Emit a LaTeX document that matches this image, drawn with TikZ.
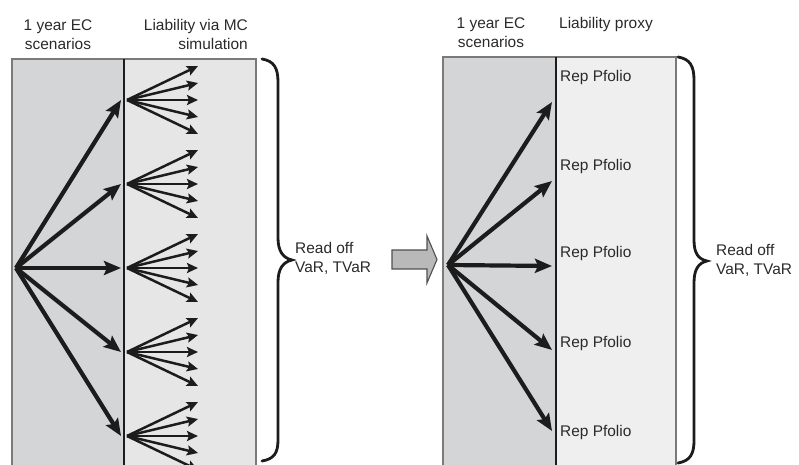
\documentclass[tikz,border=0pt]{standalone}
\usepackage{fontspec}
\setmainfont{Liberation Sans}
\usetikzlibrary{arrows.meta}

\definecolor{scenfill}{HTML}{D4D5D7}
\definecolor{mcfill}{HTML}{E6E6E6}
\definecolor{proxyfill}{HTML}{EEEFEE}
\definecolor{frame}{HTML}{7A7A7A}
\definecolor{ink}{HTML}{1C1C1C}
\definecolor{txt}{HTML}{2A2A2A}
\definecolor{blockfill}{HTML}{B9B9B9}
\definecolor{blockline}{HTML}{505050}

\tikzset{
  panel/.style={draw=frame, line width=1.2bp},
  divider/.style={draw=ink, line width=1.6bp},
  mainarrow/.style={draw=ink, line width=4.2bp,
    -{Stealth[length=17bp,width=14bp,inset=3bp]}},
  subarrow/.style={draw=ink, line width=2.5bp,
    -{Stealth[length=11bp,width=10bp,inset=2bp]}},
  label/.style={text=txt, font=\fontsize{15.5}{20}\selectfont, inner sep=0pt},
  bracepath/.style={draw=ink, line width=2.8bp, line cap=round},
  blockarrow/.style={fill=blockfill, draw=blockline, line width=1.1bp, line join=miter},
}

\begin{document}
\begin{tikzpicture}[x=1bp,y=-1bp]
\useasboundingbox (0,0) rectangle (799,465);
\clip (0,0) rectangle (799,465);

% ---------- Monte Carlo approach ----------
\fill[scenfill] (12,59) rectangle (124,470);
\fill[mcfill] (124,59) rectangle (256,470);
\draw[panel] (12,470) -- (12,59) -- (256,59) -- (256,470);
\draw[divider] (124,59) -- (124,470);

% two-line labels are placed by the baseline of their last line
\node[label, anchor=base, align=center] (hdrLscen) at (58,50) {1 year EC\\scenarios};
\node[label, anchor=base east, align=right] (hdrLmc) at (248,50) {Liability via MC\\simulation};

\coordinate (Lsrc) at (16,268);
\foreach \i/\y in {1/100,2/184,3/268,4/352,5/436} {
  \coordinate (Ltip\i) at (121,\y);
  \coordinate (Lhub\i) at (127,\y);
  \draw[mainarrow] (Lsrc) -- (Ltip\i);
  \foreach \j/\d in {1/-34,2/-17,3/0,4/17,5/34} {
    \coordinate (Lleaf\i\j) at (198,\y+\d);
    \draw[subarrow] (Lhub\i) -- (Lleaf\i\j);
  }
}

\draw[bracepath] (262,59) .. controls (274,61) and (278,68) .. (278,82)
  -- (278,238) .. controls (278,251) and (283,258) .. (292,260)
  .. controls (283,262) and (278,269) .. (278,282)
  -- (278,440) .. controls (278,453) and (274,459) .. (262,461);
\node[label, anchor=base west, align=left] (readL) at (295,273) {Read off\\VaR, TVaR};

% ---------- transition arrow ----------
\draw[blockarrow] (392,250) -- (427,250) -- (427,236) -- (437,259.5)
  -- (427,283) -- (427,269) -- (392,269) -- cycle;

% ---------- replicating portfolio approach ----------
\fill[scenfill] (443,57) rectangle (556,470);
\fill[proxyfill] (556,57) rectangle (676,470);
\draw[panel] (443,470) -- (443,57) -- (676,57) -- (676,470);
\draw[divider] (556,57) -- (556,470);

\node[label, anchor=base, align=center] (hdrRscen) at (491,48) {1 year EC\\scenarios};
\node[label, anchor=base west] (hdrRproxy) at (559,29) {Liability proxy};

\coordinate (Rsrc) at (448,265);
\foreach \i/\y in {1/102,2/181,3/266,4/350,5/431} {
  \coordinate (Rtip\i) at (552,\y);
  \draw[mainarrow] (Rsrc) -- (Rtip\i);
}
\foreach \i/\b in {1/82,2/171,3/258,4/348,5/436} {
  \node[label, anchor=base west] (rep\i) at (560,\b) {Rep Pfolio};
}

\draw[bracepath] (678,57) .. controls (690,59) and (694,66) .. (694,80)
  -- (694,240) .. controls (694,253) and (698,259) .. (707,261)
  .. controls (698,263) and (694,270) .. (694,283)
  -- (694,441) .. controls (694,454) and (690,461) .. (678,463);
\node[label, anchor=base west, align=left] (readR) at (716,275) {Read off\\VaR, TVaR};
\end{tikzpicture}
\end{document}
